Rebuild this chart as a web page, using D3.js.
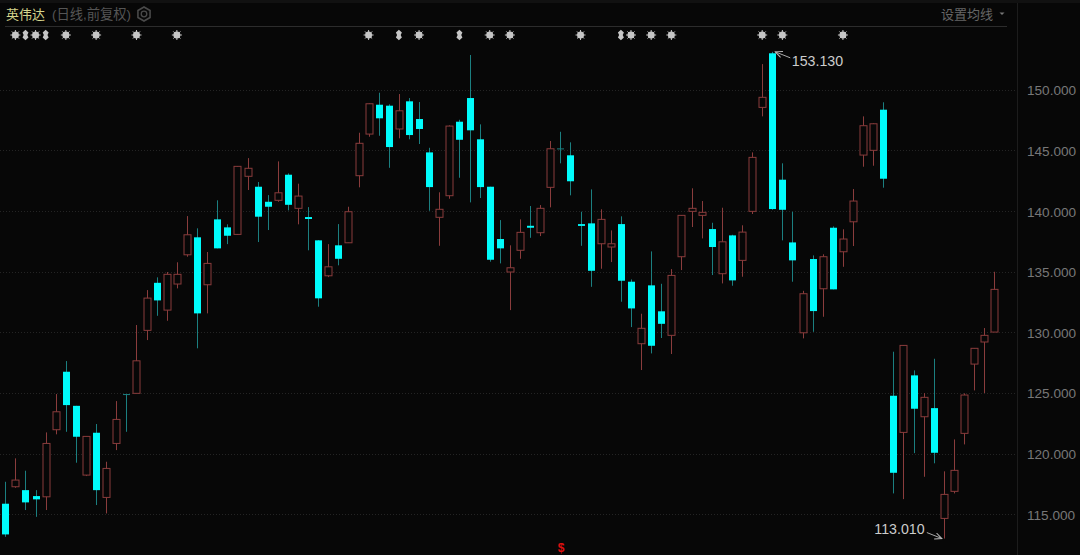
<!DOCTYPE html>
<html>
<head>
<meta charset="utf-8">
<script src="https://cdn.jsdelivr.net/npm/d3@7"></script>
<style>
    html, body { margin: 0; padding: 0; background: #070707; overflow: hidden; }
    text { font-family: "Liberation Sans", "Noto Sans CJK SC", sans-serif; }
</style>
</head>
<body>
<div id="chart"></div>
<script>
// candles, left to right
const opens = [115.88,117.28,117.00,116.51,116.45,121.98,126.76,123.95,118.24,121.73,116.40,120.85,124.92,124.98,130.17,134.09,131.84,133.99,136.40,137.84,133.93,139.32,138.66,138.08,142.87,142.01,140.77,140.89,143.00,140.23,139.51,137.59,134.67,137.18,137.39,142.92,146.35,148.77,148.69,146.77,149.05,147.59,144.84,139.49,141.27,147.37,149.32,145.92,142.01,137.70,134.98,136.77,138.79,138.22,141.96,145.17,144.60,138.93,138.99,137.31,137.04,138.93,134.18,129.07,133.88,131.74,129.76,136.24,139.98,139.65,138.52,134.84,138.00,135.94,139.98,148.55,153.01,142.59,137.42,129.97,136.05,133.60,138.63,136.65,139.12,144.62,145.01,148.36,124.78,121.76,126.46,123.05,123.76,114.67,116.90,121.68,127.39,129.21,130.03];
const closes = [113.35,117.83,115.99,116.24,120.85,123.46,124.01,121.40,121.43,117.00,118.79,122.83,124.86,127.66,132.83,132.64,134.79,134.79,138.05,131.57,135.69,136.93,137.97,143.69,143.53,139.54,140.36,141.51,140.52,141.24,139.35,132.81,135.41,136.07,139.95,145.59,148.85,147.65,145.28,148.27,146.27,146.77,141.98,140.15,147.01,145.88,146.66,141.98,135.99,136.93,135.33,138.25,138.63,140.23,145.14,145.09,142.46,138.78,135.08,139.32,137.31,134.26,131.98,130.34,128.90,130.71,134.70,139.65,140.23,139.90,137.04,137.47,134.29,138.27,144.43,149.38,140.17,140.11,135.94,133.19,131.76,136.24,133.55,137.70,140.83,147.04,147.20,142.67,118.43,128.93,123.71,124.65,120.08,116.65,118.63,124.84,128.69,129.76,133.55];
const highs = [117.69,119.62,118.60,117.00,121.76,124.92,127.64,123.95,121.43,122.45,119.34,124.34,124.92,130.61,133.49,134.54,134.98,135.78,139.59,138.58,136.63,140.89,138.91,143.71,144.37,142.40,141.32,144.10,143.11,142.26,140.33,137.61,137.28,138.93,140.36,146.46,148.88,149.76,148.80,149.65,149.32,148.99,145.22,141.55,147.07,147.53,152.87,147.15,142.01,139.26,137.18,139.32,140.42,140.50,145.78,146.54,145.67,139.95,141.79,140.15,138.41,139.57,134.37,131.54,136.68,134.01,135.22,139.68,141.88,140.83,139.04,140.28,138.05,138.83,144.84,152.12,153.13,143.94,139.95,133.43,136.35,136.44,138.74,138.50,141.82,147.81,147.24,148.97,128.41,128.96,126.87,125.00,127.83,118.55,121.18,124.98,128.71,130.36,135.00];
const lows = [113.15,117.19,115.36,114.80,115.36,121.60,121.81,119.26,118.16,115.77,115.08,120.30,121.81,124.98,129.37,131.37,130.96,133.63,136.24,128.69,131.57,136.93,137.28,138.03,141.74,137.45,138.44,140.77,140.06,138.91,136.77,132.12,134.56,135.53,137.39,141.96,146.13,146.21,143.57,146.00,145.92,145.53,140.03,137.14,141.02,142.75,140.72,141.08,135.83,135.69,131.84,136.07,137.80,137.94,140.31,143.94,141.30,137.14,133.76,135.25,135.80,132.53,130.44,126.90,128.27,129.54,128.22,135.14,138.69,137.75,134.73,134.04,133.85,134.59,139.76,147.81,140.11,137.59,134.18,129.51,130.05,131.29,133.55,135.41,137.12,143.66,143.74,141.93,116.73,116.26,120.05,118.10,119.21,113.01,116.73,120.77,125.22,125.00,130.03];

// y axis
const yTicks = [150, 145, 140, 135, 130, 125, 120, 115];

// event markers above the candles, by candle number
const starMarks = [1, 3, 6, 9, 13, 17, 36, 41, 48, 50, 57, 62, 64, 66, 75, 77, 83];
const narrowMarks = [2, 4, 39, 45, 61];

// high / low notes
const maxNote = { i: 76, value: 153.13, label: "153.130" };
const minNote = { i: 93, value: 113.01, label: "113.010" };

const width = 1080, height = 555;

const svg = d3.select("#chart")
    .append("svg")
    .attr("width", width)
    .attr("height", height)
    .style("display", "block");

const x = d3.scaleLinear().domain([0, closes.length - 1]).range([5.3, 994.3]);
const y = d3.scaleLinear().domain([150, 115]).range([89.8, 514.4]);

const cyan = "#00fcfc", cyanWick = "#1b7f80", red = "#8a3c3c", gray = "#777";

svg.append("rect").attr("width", width).attr("height", height).attr("fill", "#070707");
// thin band along the very top
svg.append("rect").attr("width", width).attr("height", 3).attr("fill", "#111");

// grid
svg.append("g").selectAll("line")
    .data(yTicks)
    .join("line")
    .attr("x1", 0)
    .attr("x2", 1017)
    .attr("y1", d => Math.round(y(d)) + 0.5)
    .attr("y2", d => Math.round(y(d)) + 0.5)
    .attr("stroke", "#242424")
    .attr("stroke-dasharray", "1 2");

// header rule and axis rule
svg.append("line").attr("x1", 5).attr("x2", 1007).attr("y1", 26.5).attr("y2", 26.5).attr("stroke", "#2c2c2c");
svg.append("line").attr("x1", 1017.5).attr("x2", 1017.5).attr("y1", 3).attr("y2", height).attr("stroke", "#1c1c1c");

// candles
const idx = d3.range(closes.length);
const isUp = i => closes[i] >= opens[i];
const px = i => Math.round(x(i)) + 0.5;
const bodyH = i => Math.abs(y(opens[i]) - y(closes[i]));

const candles = svg.append("g");

candles.selectAll("line.wick")
    .data(idx)
    .join("line")
    .attr("class", "wick")
    .attr("x1", px)
    .attr("x2", px)
    .attr("y1", i => y(highs[i]))
    .attr("y2", i => y(lows[i]))
    .attr("stroke", i => isUp(i) ? red : cyanWick);

candles.selectAll("rect.body")
    .data(idx)
    .join("rect")
    .attr("class", "body")
    .attr("x", i => px(i) - 3.5)
    .attr("width", 7)
    .attr("y", i => y(Math.max(opens[i], closes[i])))
    .attr("height", i => Math.max(1, bodyH(i)))
    // a body under a pixel or so stays the dim wick colour
    .attr("fill", i => isUp(i) ? "#070707" : (bodyH(i) < 1.2 ? cyanWick : cyan))
    .attr("stroke", i => isUp(i) ? red : "none");

// markers
const ray = d3.range(8).map(k => k * Math.PI / 4);
const stars = svg.append("g").attr("fill", "#c6c6c6").attr("stroke", "#c6c6c6");
const star = stars.selectAll("g")
    .data(starMarks)
    .join("g")
    .attr("transform", i => `translate(${x(i)},35)`);
star.append("circle").attr("r", 3.5).attr("stroke", "none");
star.selectAll("line")
    .data(ray)
    .join("line")
    .attr("x2", a => 5 * Math.cos(a))
    .attr("y2", a => 5 * Math.sin(a))
    .attr("stroke-width", 1);

stars.selectAll("path")
    .data(narrowMarks)
    .join("path")
    .attr("transform", i => `translate(${x(i)},35)`)
    .attr("stroke", "none")
    .attr("d", "M0,-5.2L3,-2.4L1.8,0L3,2.4L0,5.2L-3,2.4L-1.8,0L-3,-2.4Z");

// y axis labels
const axis = svg.append("g")
    .attr("transform", "translate(1024,0)")
    .call(d3.axisRight(y).tickValues(yTicks).tickFormat(d3.format(".3f")).tickSize(0));
axis.select(".domain").remove();
axis.selectAll("text")
    .attr("x", 3)
    .attr("dy", "0.36em")
    .attr("fill", gray)
    .style("font-size", "13.6px")
    .style("font-family", '"Liberation Sans", sans-serif');

// header
svg.append("text").attr("x", 6).attr("y", 19).attr("fill", "#d5d58c").style("font-size", "13px").text("英伟达");
svg.append("text").attr("x", 52).attr("y", 19).attr("fill", "#555").style("font-size", "13.3px").text("(日线,前复权)");
svg.append("text").attr("x", 941).attr("y", 19).attr("fill", "#666").style("font-size", "13px").text("设置均线");
svg.append("path").attr("d", "M999.5,12.5h5l-2.5,2.5z").attr("fill", "#777");

// gear
svg.append("path")
    .attr("d", d3.line()(d3.range(6).map(k => [144 + 7 * Math.cos(k * Math.PI / 3 + Math.PI / 6), 14 + 7 * Math.sin(k * Math.PI / 3 + Math.PI / 6)])) + "Z")
    .attr("fill", "none")
    .attr("stroke", "#4a4a4a")
    .attr("stroke-width", 1.6);
svg.append("circle").attr("cx", 144).attr("cy", 14).attr("r", 2.8).attr("fill", "none").attr("stroke", "#4a4a4a").attr("stroke-width", 1.3);

// max / min notes
svg.append("defs").append("marker")
    .attr("id", "head")
    .attr("viewBox", "0 0 8 8")
    .attr("refX", 7).attr("refY", 4)
    .attr("markerWidth", 8).attr("markerHeight", 8)
    .attr("markerUnits", "userSpaceOnUse")
    .attr("orient", "auto")
    .append("path")
    .attr("d", "M0,0.8L7,4L0,7.2")
    .attr("fill", "none")
    .attr("stroke", "#bbb");

const noteLine = (x1, y1, x2, y2) => svg.append("line")
    .attr("x1", x1).attr("y1", y1).attr("x2", x2).attr("y2", y2)
    .attr("stroke", "#aaa")
    .attr("marker-end", "url(#head)");

noteLine(x(maxNote.i) + 18, y(maxNote.value) + 6, x(maxNote.i) + 3, y(maxNote.value));
noteLine(x(minNote.i) - 17, y(minNote.value) - 6, x(minNote.i) - 2, y(minNote.value));

svg.append("text").attr("x", x(maxNote.i) + 19.5).attr("y", y(maxNote.value) + 14)
    .attr("fill", "#ccc").style("font-size", "14.2px").text(maxNote.label);
svg.append("text").attr("x", x(minNote.i) - 69.5).attr("y", y(minNote.value) - 5)
    .attr("fill", "#ccc").style("font-size", "14.2px").text(minNote.label);

// dividend mark at the bottom
svg.append("text").attr("x", 561).attr("y", 552).attr("text-anchor", "middle")
    .attr("fill", "#e01010").style("font-size", "12px").style("font-weight", "bold").text("$");
</script>
</body>
</html>
